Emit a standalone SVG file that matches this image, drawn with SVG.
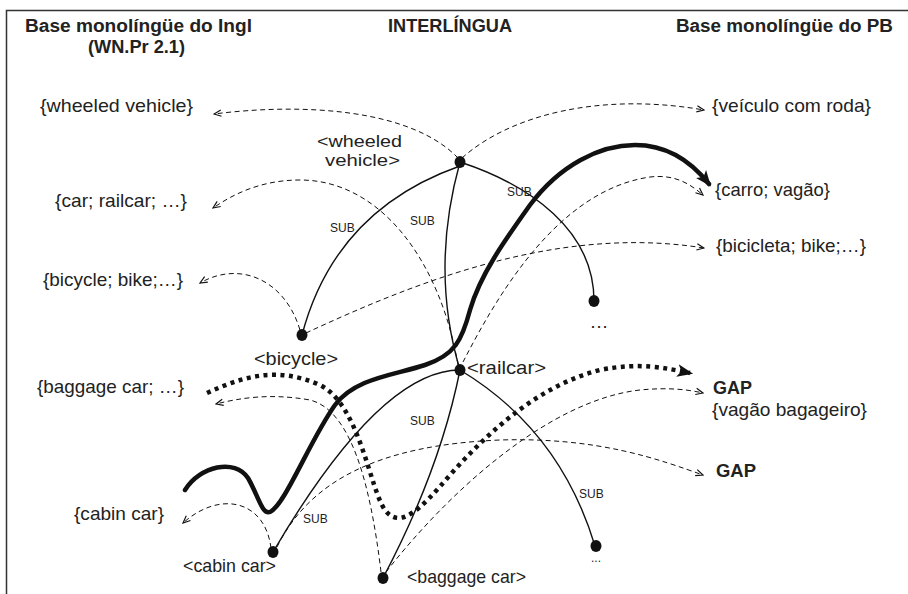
<svg xmlns="http://www.w3.org/2000/svg" width="908" height="594" viewBox="0 0 908 594">
<style>
.t{font-family:"Liberation Sans",Arial,sans-serif;font-size:19px;fill:#222}
.w{font-family:"Liberation Sans",Arial,sans-serif;font-size:17px;fill:#222}
.b{font-family:"Liberation Sans",Arial,sans-serif;font-size:18px;font-weight:bold;fill:#222}
.s{font-family:"Liberation Sans",Arial,sans-serif;font-size:12px;fill:#222}
.rel{fill:none;stroke:#111;stroke-width:1.4}
.map{fill:none;stroke:#111;stroke-width:1;stroke-dasharray:5 3.5}
.thick{fill:none;stroke:#111;stroke-width:4.5;stroke-linecap:round}
.dot{fill:none;stroke:#111;stroke-width:4.5;stroke-dasharray:4 4.5}
.node{fill:#111}
</style>
<defs>
<marker id="open" viewBox="0 0 10 10" refX="9" refY="5" markerWidth="9" markerHeight="9" markerUnits="userSpaceOnUse" orient="auto">
<path d="M1,1.5 L9,5 L1,8.5" fill="none" stroke="#111" stroke-width="1.3"/>
</marker>
<marker id="solid" viewBox="0 0 10 10" refX="8" refY="5" markerWidth="16" markerHeight="16" markerUnits="userSpaceOnUse" orient="auto">
<path d="M0,1 L10,5 L0,9 L2.5,5 z" fill="#111"/>
</marker>
</defs>
<rect width="908" height="594" fill="#fff"/>
<path d="M6.5,594 V10.5 H908" fill="none" stroke="#333" stroke-width="1.5"/>

<g id="headers">
<text class="b" x="25" y="32" textLength="227" lengthAdjust="spacingAndGlyphs">Base monolíngüe do Ingl</text>
<text class="b" x="88" y="53" textLength="97" lengthAdjust="spacingAndGlyphs">(WN.Pr 2.1)</text>
<text class="b" x="388" y="32" textLength="124" lengthAdjust="spacingAndGlyphs">INTERLÍNGUA</text>
<text class="b" x="676" y="32" textLength="217" lengthAdjust="spacingAndGlyphs">Base monolíngüe do PB</text>
</g>

<g id="connectors">
<!-- SUB relations -->
<path class="rel" d="M302,335 Q335,210 460,166"/>
<path class="rel" d="M460,162 Q430,270 460,370"/>
<path class="rel" d="M460,162 C530,185 594,230 594,301"/>
<path class="rel" d="M460,370 Q380,370 273,552"/>
<path class="rel" d="M460,370 Q440,470 383,578"/>
<path class="rel" d="M460,370 Q560,430 595,546"/>
<!-- mappings -->
<path class="map" marker-end="url(#open)" d="M458,158 C410,108 300,103 214,114"/>
<path class="map" marker-end="url(#open)" d="M462,158 C510,115 600,92 704,110"/>
<path class="map" marker-end="url(#open)" d="M300,330 C285,280 240,260 200,283"/>
<path class="map" marker-end="url(#open)" d="M306,333 C420,280 560,225 704,248"/>
<path class="map" marker-end="url(#open)" d="M458,365 C440,260 380,180 300,180 C260,180 232,195 213,208"/>
<path class="map" marker-end="url(#open)" d="M463,362 C500,290 560,190 650,177 C675,174 690,184 703,195"/>
<path class="map" marker-end="url(#open)" d="M381,572 C370,480 350,410 310,400 C270,393 240,398 216,404"/>
<path class="map" marker-end="url(#open)" d="M271,548 C265,500 220,490 183,523"/>
<path class="map" marker-end="url(#open)" d="M386,572 C450,490 550,400 640,390 C670,387 690,390 703,393"/>
<path class="map" marker-end="url(#open)" d="M277,547 C310,480 380,445 500,440 C600,437 660,460 703,475"/>
<!-- thick path -->
<path class="thick" marker-end="url(#solid)" d="M185,490 C200,466 235,458 248,478 C258,495 262,515 270,512 C285,505 310,440 335,405 C355,378 395,375 425,365 C455,355 462,340 470,310 C480,275 505,240 530,205 C560,165 600,145 635,145 C665,145 690,160 709,184"/>
<!-- dotted path -->
<path class="dot" marker-end="url(#solid)" d="M207,393 C240,378 275,365 320,385 C360,405 370,490 385,510 C400,530 420,510 450,475 C490,430 540,385 600,370 C640,362 665,368 690,373"/>
</g>

<g id="n-wheeled">
<ellipse class="node" cx="460" cy="162" rx="5.5" ry="6"/>
<text class="w" x="317" y="147" textLength="85" lengthAdjust="spacingAndGlyphs">&lt;wheeled</text>
<text class="w" x="325" y="166" textLength="75" lengthAdjust="spacingAndGlyphs">vehicle&gt;</text>
</g>
<g id="n-bicycle">
<ellipse class="node" cx="302" cy="335" rx="5.5" ry="6"/>
<text class="t" x="254" y="365" textLength="84" lengthAdjust="spacingAndGlyphs">&lt;bicycle&gt;</text>
</g>
<g id="n-railcar">
<ellipse class="node" cx="460" cy="370" rx="5.5" ry="6"/>
<text class="t" x="467" y="374" textLength="79" lengthAdjust="spacingAndGlyphs">&lt;railcar&gt;</text>
</g>
<g id="n-more1">
<ellipse class="node" cx="594" cy="301" rx="5.5" ry="6"/>
<text class="t" x="599" y="328" text-anchor="middle">…</text>
</g>
<g id="n-cabin">
<ellipse class="node" cx="273" cy="552" rx="5.5" ry="6"/>
<text class="t" x="183" y="572" textLength="93" lengthAdjust="spacingAndGlyphs">&lt;cabin car&gt;</text>
</g>
<g id="n-baggage">
<ellipse class="node" cx="383" cy="578" rx="5.5" ry="6"/>
<text class="t" x="407" y="583" textLength="119" lengthAdjust="spacingAndGlyphs">&lt;baggage car&gt;</text>
</g>
<g id="n-more2">
<ellipse class="node" cx="596" cy="546" rx="5.5" ry="6"/>
<text class="s" x="596" y="562" text-anchor="middle">...</text>
</g>

<g id="en-synsets">
<text class="t" x="40" y="112" textLength="153" lengthAdjust="spacingAndGlyphs">{wheeled vehicle}</text>
<text class="t" x="55" y="207" textLength="132" lengthAdjust="spacingAndGlyphs">{car; railcar; …}</text>
<text class="t" x="43" y="286" textLength="140" lengthAdjust="spacingAndGlyphs">{bicycle; bike;…}</text>
<text class="t" x="37" y="393" textLength="147" lengthAdjust="spacingAndGlyphs">{baggage car; …}</text>
<text class="t" x="74" y="520" textLength="90" lengthAdjust="spacingAndGlyphs">{cabin car}</text>
</g>
<g id="pt-synsets">
<text class="t" x="712" y="112" textLength="159" lengthAdjust="spacingAndGlyphs">{veículo com roda}</text>
<text class="t" x="715" y="196" textLength="115" lengthAdjust="spacingAndGlyphs">{carro; vagão}</text>
<text class="t" x="716" y="252" textLength="150" lengthAdjust="spacingAndGlyphs">{bicicleta; bike;…}</text>
<text class="b" x="713" y="394" textLength="39" lengthAdjust="spacingAndGlyphs">GAP</text>
<text class="t" x="712" y="416" textLength="155" lengthAdjust="spacingAndGlyphs">{vagão bagageiro}</text>
<text class="b" x="716" y="477" textLength="40" lengthAdjust="spacingAndGlyphs">GAP</text>
</g>

<g id="sub-labels">
<text class="s" x="330" y="232">SUB</text>
<text class="s" x="410" y="225">SUB</text>
<text class="s" x="507" y="196">SUB</text>
<text class="s" x="410" y="425">SUB</text>
<text class="s" x="579" y="498">SUB</text>
<text class="s" x="303" y="523">SUB</text>
</g>
</svg>
